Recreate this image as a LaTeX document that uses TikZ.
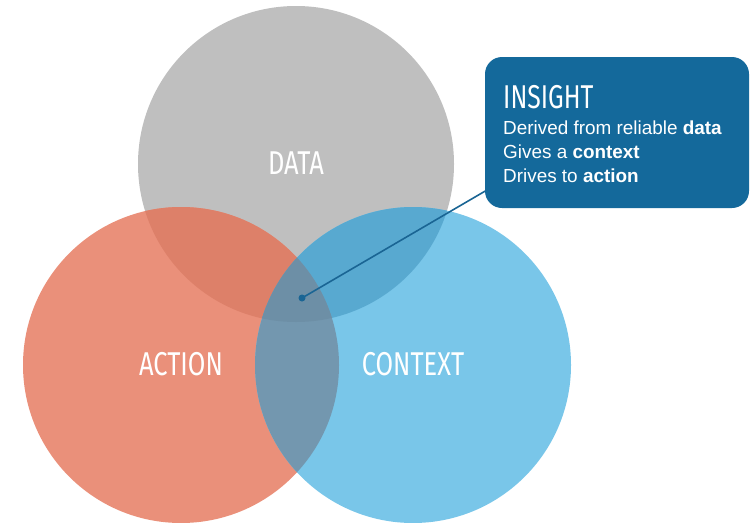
\documentclass[tikz,border=0pt]{standalone}
\usepackage{fontspec}
\setmainfont{Liberation Sans}
\newfontfamily\condfont{Fira Sans}
\definecolor{cgray}{HTML}{BFBFBF}
\definecolor{csalmon}{HTML}{EA907A}
\definecolor{cblue}{HTML}{79C6E9}
\definecolor{cgs}{HTML}{DD8069}
\definecolor{cgb}{HTML}{58A9D0}
\definecolor{csb}{HTML}{7397AF}
\definecolor{cgsb}{HTML}{6D8FA6}
\definecolor{cbox}{HTML}{14699B}
\definecolor{cline}{HTML}{1A6594}
\begin{document}
\begin{tikzpicture}[x=1pt,y=-1pt,
  biglabel/.style={text=white,font=\condfont\fontsize{33}{33}\selectfont,inner sep=0pt},
  bodytext/.style={text=white,font=\fontsize{18.9}{24}\selectfont,align=left,inner sep=0pt,anchor=north west},
  boxstyle/.style={fill=cbox,rounded corners=17pt,minimum width=264pt,minimum height=151pt,inner sep=0pt}]
\useasboundingbox (0,0) rectangle (751,522);
\def\R{158}
\coordinate (cd) at (296,164);
\coordinate (ca) at (181,365);
\coordinate (cc) at (413,365);
% base circles
\fill[cgray] (cd) circle (\R);
\fill[csalmon] (ca) circle (\R);
\fill[cblue] (cc) circle (\R);
% pairwise overlaps
\begin{scope}\clip (cd) circle (\R); \fill[cgs] (ca) circle (\R); \end{scope}
\begin{scope}\clip (cd) circle (\R); \fill[cgb] (cc) circle (\R); \end{scope}
\begin{scope}\clip (ca) circle (\R); \fill[csb] (cc) circle (\R); \end{scope}
\begin{scope}\clip (ca) circle (\R); \clip (cc) circle (\R); \fill[cgsb] (cd) circle (\R); \end{scope}
% labels
\node[biglabel] (ldata) at (296,163) {\scalebox{0.77}[1]{DATA}};
\node[biglabel] (laction) at (181,364) {\scalebox{0.77}[1]{ACTION}};
\node[biglabel] (lcontext) at (413,364) {\scalebox{0.77}[1]{CONTEXT}};
% connector
\node[circle,fill=cline,inner sep=0pt,minimum size=7pt] (dot) at (302,298) {};
\coordinate (lineend) at (487,190);
\draw[cline,line width=1.6pt] (dot.center) -- (lineend);
% insight box
\node[boxstyle] (box) at (617,132.5) {};
\node[biglabel,anchor=base west] (title) at (503,108) {\scalebox{0.75}[1]{INSIGHT}};
\node[bodytext] (body) at (503,121) {Derived from reliable \textbf{data}\\Gives a \textbf{context}\\Drives to \textbf{action}};
\end{tikzpicture}
\end{document}
